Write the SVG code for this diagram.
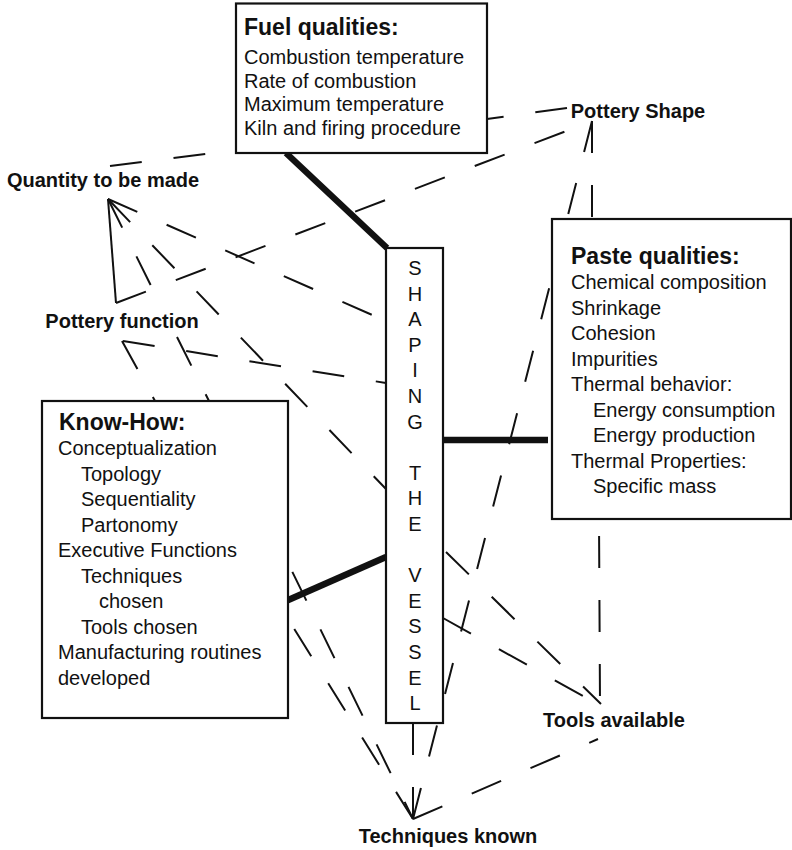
<svg xmlns="http://www.w3.org/2000/svg" width="792" height="850" viewBox="0 0 792 850">
<style>
.box{fill:#fff;stroke:#111;stroke-width:2.2}
.t{font-family:"Liberation Sans",Arial,sans-serif;font-size:20px;fill:#111}
.h{font-family:"Liberation Sans",Arial,sans-serif;font-size:23px;font-weight:bold;fill:#111}
.lb{font-family:"Liberation Sans",Arial,sans-serif;font-size:20px;font-weight:bold;fill:#111;text-anchor:middle}
.v{font-family:"Liberation Sans",Arial,sans-serif;font-size:20px;fill:#111;text-anchor:middle}
.d{stroke:#111;stroke-width:2;stroke-dasharray:32 32;fill:none}
.s{stroke:#111;stroke-width:2;fill:none}
.k{stroke:#111;stroke-width:6.5;fill:none}
</style>
<rect width="792" height="850" fill="#fff"/>
<g id="connectors">
<line class="s" x1="108" y1="199" x2="116" y2="303"/>
<line class="d" x1="116" y1="303" x2="569" y2="130"/>
<line class="d" x1="110" y1="166" x2="236" y2="150"/>
<line class="d" x1="567" y1="108" x2="487" y2="119"/>
<line class="d" x1="108" y1="199" x2="386" y2="321"/>
<line class="d" x1="108" y1="199" x2="386" y2="489"/>
<line class="d" x1="446" y1="552" x2="601" y2="704"/>
<line class="d" x1="443" y1="618" x2="601" y2="706"/>
<line class="d" x1="592" y1="121" x2="567" y2="219"/>
<line class="d" style="stroke-dasharray:32 32.5" x1="413" y1="819" x2="552" y2="277"/>
<line class="d" x1="413" y1="723" x2="413" y2="819"/>
<line class="d" x1="413" y1="819" x2="598" y2="739"/>
<line class="d" style="stroke-dashoffset:47" x1="599" y1="519" x2="600" y2="704"/>
<line class="d" x1="592" y1="121" x2="592" y2="219"/>
<line class="d" x1="123" y1="341" x2="386" y2="383"/>
<line class="d" x1="122" y1="341" x2="155" y2="401"/>
<line class="d" x1="413" y1="819" x2="288" y2="619"/>
<line class="d" x1="108" y1="199" x2="162" y2="308"/>
<line class="d" x1="177" y1="337" x2="209" y2="401"/>
<line class="d" style="stroke-dashoffset:13" x1="413" y1="819" x2="288" y2="563"/>
<line class="k" x1="286" y1="153" x2="387" y2="248"/>
<line class="k" x1="286" y1="601" x2="386" y2="557"/>
<line class="k" x1="443" y1="440" x2="548" y2="440"/>
</g>
<g id="fuel">
<rect class="box" x="236" y="3.5" width="251" height="149.5"/>
<text class="h" x="244" y="35">Fuel qualities:</text>
<text class="t" x="244" y="64">Combustion temperature</text>
<text class="t" x="244" y="87.5">Rate of combustion</text>
<text class="t" x="244" y="111">Maximum temperature</text>
<text class="t" x="244" y="134.5">Kiln and firing procedure</text>
</g>
<g id="shaping">
<rect class="box" x="386" y="248" width="57" height="475"/>
<text class="v"><tspan x="415" y="275">S</tspan><tspan x="415" y="300.6">H</tspan><tspan x="415" y="326.2">A</tspan><tspan x="415" y="351.8">P</tspan><tspan x="415" y="377.4">I</tspan><tspan x="415" y="403">N</tspan><tspan x="415" y="428.6">G</tspan><tspan x="415" y="479.8">T</tspan><tspan x="415" y="505.4">H</tspan><tspan x="415" y="531">E</tspan><tspan x="415" y="582.2">V</tspan><tspan x="415" y="607.8">E</tspan><tspan x="415" y="633.4">S</tspan><tspan x="415" y="659">S</tspan><tspan x="415" y="684.6">E</tspan><tspan x="415" y="710.2">L</tspan></text>
</g>
<g id="paste">
<rect class="box" x="552" y="219" width="239" height="300"/>
<text class="h" x="571" y="264">Paste qualities:</text>
<text class="t" x="571" y="289">Chemical composition</text>
<text class="t" x="571" y="314.5">Shrinkage</text>
<text class="t" x="571" y="340">Cohesion</text>
<text class="t" x="571" y="365.5">Impurities</text>
<text class="t" x="571" y="391">Thermal behavior:</text>
<text class="t" x="593" y="416.5">Energy consumption</text>
<text class="t" x="593" y="442">Energy production</text>
<text class="t" x="571" y="467.5">Thermal Properties:</text>
<text class="t" x="593" y="493">Specific mass</text>
</g>
<g id="knowhow">
<rect class="box" x="42" y="401" width="246" height="317"/>
<text class="h" x="59" y="430">Know-How:</text>
<text class="t" x="58" y="455">Conceptualization</text>
<text class="t" x="81" y="480.5">Topology</text>
<text class="t" x="81" y="506">Sequentiality</text>
<text class="t" x="81" y="531.5">Partonomy</text>
<text class="t" x="58" y="557">Executive Functions</text>
<text class="t" x="81" y="582.5">Techniques</text>
<text class="t" x="99" y="608">chosen</text>
<text class="t" x="81" y="633.5">Tools chosen</text>
<text class="t" x="58" y="659">Manufacturing routines</text>
<text class="t" x="58" y="684.5">developed</text>
</g>
<g id="quantity"><text class="lb" x="103" y="187">Quantity to be made</text></g>
<g id="function"><text class="lb" x="122" y="328">Pottery function</text></g>
<g id="shape"><text class="lb" x="638" y="118">Pottery Shape</text></g>
<g id="tools"><text class="lb" x="614" y="727">Tools available</text></g>
<g id="techniques"><text class="lb" x="448" y="843">Techniques known</text></g>
</svg>
